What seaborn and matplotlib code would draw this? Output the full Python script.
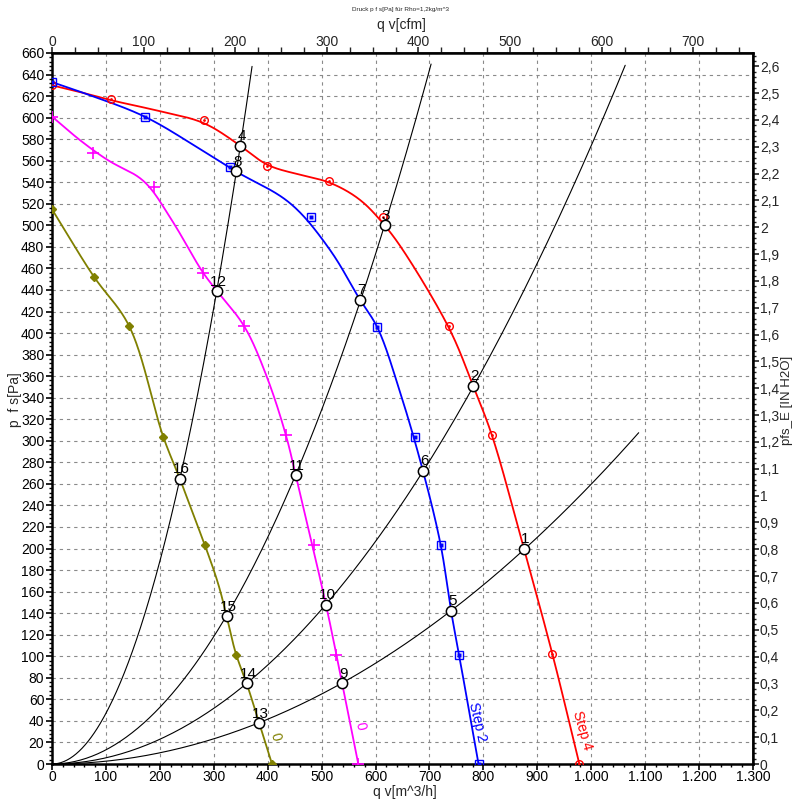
import numpy as np
import pandas as pd
import matplotlib
matplotlib.use("Agg")
import matplotlib.pyplot as plt
from matplotlib.ticker import MultipleLocator, AutoMinorLocator, FuncFormatter, FixedLocator
import seaborn as sns

# ---------------- data ----------------
# fan curves: points along each curve (qv m^3/h, p Pa)
step4_q = [0, 58, 111, 200, 282, 349, 399, 460, 514, 571, 617, 651, 738, 781, 816, 875, 928, 978]
step4_p = [630, 623, 616, 606, 595, 574, 556, 547, 540, 524, 500, 477, 403, 351, 305, 200, 102, 0]
step4_mq = [0, 109, 282, 399, 514, 614, 736, 816, 928, 978]
step4_mp = [630, 617, 598, 555, 541, 508, 407, 305, 102, 0]

step2_q = [0, 58, 172, 274, 341, 441, 516, 571, 603, 645, 688, 721, 740, 755, 791]
step2_p = [633, 623, 601, 571, 550, 521, 477, 431, 406, 346, 272, 203, 142, 101, 0]
step2_mq = [0, 172, 330, 480, 603, 673, 721, 755, 791]
step2_mp = [633, 601, 554, 508, 406, 304, 203, 101, 0]

mag_q = [0, 52, 108, 169, 222, 280, 306, 356, 398, 434, 452, 508, 538, 568]
mag_p = [601, 579, 559, 542, 505, 456, 439, 407, 360, 305, 268, 148, 75, 0]
mag_mq = [0, 76, 189, 280, 356, 434, 486, 526, 568]
mag_mp = [601, 567, 536, 456, 407, 305, 203, 101, 0]

oli_q = [0, 78, 143, 206, 237, 252, 306, 324, 341, 361, 384, 408]
oli_p = [515, 452, 407, 304, 265, 245, 171, 137, 102, 75, 38, 0]
oli_mq = [0, 78, 143, 206, 284, 341, 408]
oli_mp = [515, 452, 407, 304, 203, 101, 0]

# operating points
op_label = [1, 2, 3, 4, 5, 6, 7, 8, 9, 10, 11, 12, 13, 14, 15, 16]
op_q = [875, 781, 617, 349, 740, 688, 571, 341, 538, 508, 452, 306, 384, 361, 324, 237]
op_p = [200, 351, 500, 574, 142, 272, 431, 550, 75, 148, 268, 439, 38, 75, 137, 265]

# system curves: which operating points lie on each, plus visible end point
sys_members = [[16, 12, 8, 4], [15, 11, 7, 3], [14, 10, 6, 2], [13, 9, 5, 1]]
sys_end_q = [371, 703, 1063, 1088]
sys_end_p = [645, 649, 648, 307]

curve_names = ["Step 4", "Step 2", "0 (magenta)", "0 (olive)"]
curve_colors = ["#ff0000", "#0000ff", "#ff00ff", "#808000"]

# ---------------- helpers ----------------
SX, SY = 0.5392, 1.0773  # approx px per unit


def _cr(pts, n=30, alpha=0.5):
    P = np.vstack([2 * pts[0] - pts[1], pts, 2 * pts[-1] - pts[-2]])
    out = []
    for i in range(1, len(P) - 2):
        P0, P1, P2, P3 = P[i - 1], P[i], P[i + 1], P[i + 2]
        t0 = 0.0
        t1 = t0 + max(np.linalg.norm(P1 - P0), 1e-6) ** alpha
        t2 = t1 + max(np.linalg.norm(P2 - P1), 1e-6) ** alpha
        t3 = t2 + max(np.linalg.norm(P3 - P2), 1e-6) ** alpha
        t = np.linspace(t1, t2, n, endpoint=False)[:, None]
        A1 = (t1 - t) / (t1 - t0) * P0 + (t - t0) / (t1 - t0) * P1
        A2 = (t2 - t) / (t2 - t1) * P1 + (t - t1) / (t2 - t1) * P2
        A3 = (t3 - t) / (t3 - t2) * P2 + (t - t2) / (t3 - t2) * P3
        B1 = (t2 - t) / (t2 - t0) * A1 + (t - t0) / (t2 - t0) * A2
        B2 = (t3 - t) / (t3 - t1) * A2 + (t - t1) / (t3 - t1) * A3
        out.append((t2 - t) / (t2 - t1) * B1 + (t - t1) / (t2 - t1) * B2)
    out.append(pts[-1:])
    return np.vstack(out)


def smooth_path(q, p, sigma=7.0):
    """Spline through read points, then lightly smoothed along its length (pixel units)."""
    pts = np.column_stack([np.asarray(q, float) * SX, np.asarray(p, float) * SY])
    path = _cr(pts)
    seg = np.r_[0, np.cumsum(np.hypot(*np.diff(path, axis=0).T))]
    u = np.linspace(0, seg[-1], int(seg[-1]) + 1)
    P = np.column_stack([np.interp(u, seg, path[:, 0]), np.interp(u, seg, path[:, 1])])
    k = int(3 * sigma)
    pre = 2 * P[0] - P[1:k + 1][::-1]
    post = 2 * P[-1] - P[-k - 1:-1][::-1]
    Q = np.vstack([pre, P, post])
    g = np.exp(-0.5 * (np.arange(-k, k + 1) / sigma) ** 2)
    g /= g.sum()
    xs = np.convolve(Q[:, 0], g, mode="valid")
    ys = np.convolve(Q[:, 1], g, mode="valid")
    return xs / SX, ys / SY


# ---------------- style ----------------
sns.set_theme(style="white")
plt.rcParams["font.family"] = ["Liberation Sans", "DejaVu Sans"]
plt.rcParams["axes.unicode_minus"] = False

fig = plt.figure(figsize=(7.93, 8.01), dpi=100)
W, H = 793, 801
L, R, T, B = 52, 753, 53, 764
ax = fig.add_axes([L / W, 1 - B / H, (R - L) / W, (B - T) / H])

# fan curves drawn through seaborn
rows = []
for name, q, p in zip(curve_names, [step4_q, step2_q, mag_q, oli_q], [step4_p, step2_p, mag_p, oli_p]):
    cq, cp = smooth_path(q, p)
    for i, (a, b) in enumerate(zip(cq, cp)):
        rows.append({"curve": name, "order": i, "q": a, "p": b})
curves = pd.DataFrame(rows)

# system curves: least-squares parabola through origin fitted to read points
sys_rows = []
for k, (mem, eq, ep) in enumerate(zip(sys_members, sys_end_q, sys_end_p)):
    qs = np.array([op_q[op_label.index(m)] for m in mem] + [eq], float)
    ps = np.array([op_p[op_label.index(m)] for m in mem] + [ep], float)
    coef = np.sum(ps * qs ** 2) / np.sum(qs ** 4)
    qq = np.linspace(0, eq, 200)
    for i, a in enumerate(qq):
        sys_rows.append({"sys": f"S{k}", "order": i, "q": a, "p": coef * a * a})
sysdf = pd.DataFrame(sys_rows)

sns.lineplot(data=sysdf, x="q", y="p", units="sys", estimator=None, sort=False,
             color="black", linewidth=0.8, ax=ax, zorder=3, legend=False)
sns.lineplot(data=curves, x="q", y="p", hue="curve", hue_order=curve_names,
             palette=curve_colors, units="curve", estimator=None, sort=False,
             linewidth=1.3, ax=ax, zorder=4, legend=False)

# markers
ax.plot(step4_mq, step4_mp, "o", ms=5.5, mfc="none", mec="#ff0000", mew=1.0, zorder=5)
ax.plot(step4_mq, step4_mp, "o", ms=2.0, mfc="#ff0000", mec="none", zorder=5)
ax.plot(step2_mq, step2_mp, "s", ms=5.5, mfc="none", mec="#0000ff", mew=1.0, zorder=5)
ax.plot(step2_mq, step2_mp, "s", ms=2.3, mfc="#0000ff", mec="none", zorder=5)
ax.plot(mag_mq, mag_mp, "+", ms=8, mec="#ff00ff", mew=1.2, zorder=5)
ax.plot(oli_mq, oli_mp, "D", ms=4, mfc="#808000", mec="#808000", zorder=5)

# operating points
sns.scatterplot(x=op_q, y=op_p, s=55, color="white", edgecolor="black", linewidth=1.1,
                ax=ax, zorder=6, legend=False)
for lbl, q, p in zip(op_label, op_q, op_p):
    ax.annotate(str(lbl), (q, p), xytext=(1, 4), textcoords="offset points",
                ha="center", va="baseline", fontsize=11, color="black", zorder=7)

# curve name labels along the lines
ax.text(983, 31, "Step 4", rotation=-74, ha="center", va="center", color="#ff0000",
        fontsize=10, rotation_mode="anchor", zorder=7)
ax.text(788, 39, "Step 2", rotation=-77, ha="center", va="center", color="#0000ff",
        fontsize=10, rotation_mode="anchor", zorder=7)
ax.text(571, 35, "0", rotation=-78, ha="center", va="center", color="#ff00ff",
        fontsize=10, rotation_mode="anchor", zorder=7)
ax.text(414, 25, "0", rotation=-75, ha="center", va="center", color="#808000",
        fontsize=10, rotation_mode="anchor", zorder=7)

# axes, ticks, grid
ax.set_xlim(0, 1300)
ax.set_ylim(0, 660)
ax.set_xlabel("")
ax.set_ylabel("")
ax.xaxis.set_major_locator(MultipleLocator(100))
ax.xaxis.set_minor_locator(AutoMinorLocator(5))
ax.yaxis.set_major_locator(MultipleLocator(20))
ax.yaxis.set_minor_locator(AutoMinorLocator(5))
ax.xaxis.set_major_formatter(FuncFormatter(lambda v, pos: f"{int(round(v)):,}".replace(",", ".")))
ax.yaxis.set_major_formatter(FuncFormatter(lambda v, pos: f"{int(round(v))}"))
ax.tick_params(axis="x", which="major", direction="out", length=4, width=1.2,
               labelsize=10, color="black", labelcolor="black", pad=0.5,
               bottom=True, top=False)
ax.tick_params(axis="y", which="major", direction="out", length=4, width=1.2,
               labelsize=10, color="black", labelcolor="black", pad=1.5,
               left=True, right=False)
ax.tick_params(axis="both", which="minor", direction="out", length=2, width=1.0,
               color="black", bottom=True, left=True, top=False, right=False)
ax.grid(True, which="major", linestyle=(0, (3, 3.5)), color="#8a8a8a", linewidth=0.8)
ax.set_axisbelow(True)
for s in ax.spines.values():
    s.set_visible(True)
    s.set_color("black")
    s.set_linewidth(1.8)

CFM = 1.69901
top = ax.secondary_xaxis("top", functions=(lambda q: q / CFM, lambda c: c * CFM))
top.xaxis.set_major_locator(FixedLocator(list(range(0, 701, 100))))
top.xaxis.set_minor_locator(FixedLocator(list(range(0, 751, 25))))
top.xaxis.set_major_formatter(FuncFormatter(lambda v, pos: f"{int(round(v))}"))
top.tick_params(which="major", direction="out", length=4, width=1.2, labelsize=10, pad=-1)
top.tick_params(which="minor", direction="out", length=4, width=1.0)

INH2O = 249.09
right = ax.secondary_yaxis("right", functions=(lambda p: p / INH2O, lambda h: h * INH2O))
right.yaxis.set_major_locator(FixedLocator([round(i * 0.1, 1) for i in range(0, 27)]))
right.yaxis.set_minor_locator(FixedLocator([round(i * 0.02, 2) for i in range(0, 133)]))


def fmt_in(v, pos):
    s = f"{v:.1f}"
    if s.endswith(".0"):
        s = s[:-2]
    return s.replace(".", ",").replace("-", "")


right.yaxis.set_major_formatter(FuncFormatter(fmt_in))
right.tick_params(which="major", direction="out", length=4, width=1.2, labelsize=10, pad=1)
right.tick_params(which="minor", direction="out", length=2, width=1.0)
ax.set_ylim(0, 660)

# texts
fig.text(400 / W, 1 - 10 / H, "Druck p f s[Pa] für Rho=1,2kg/m^3", ha="center", va="center", fontsize=4.6)
fig.text(401 / W, 1 - 25 / H, "q v[cfm]", ha="center", va="center", fontsize=10)
fig.text(405 / W, 1 - 792 / H, "q v[m^3/h]", ha="center", va="center", fontsize=10)
fig.text(15 / W, 1 - 400 / H, "p  f s[Pa]", ha="center", va="center", rotation=90, fontsize=10)
fig.text(787 / W, 1 - 400 / H, "pfs_E [IN H2O]", ha="center", va="center", rotation=90, fontsize=9.5)

fig.savefig("out.png", dpi=100, facecolor="white")
